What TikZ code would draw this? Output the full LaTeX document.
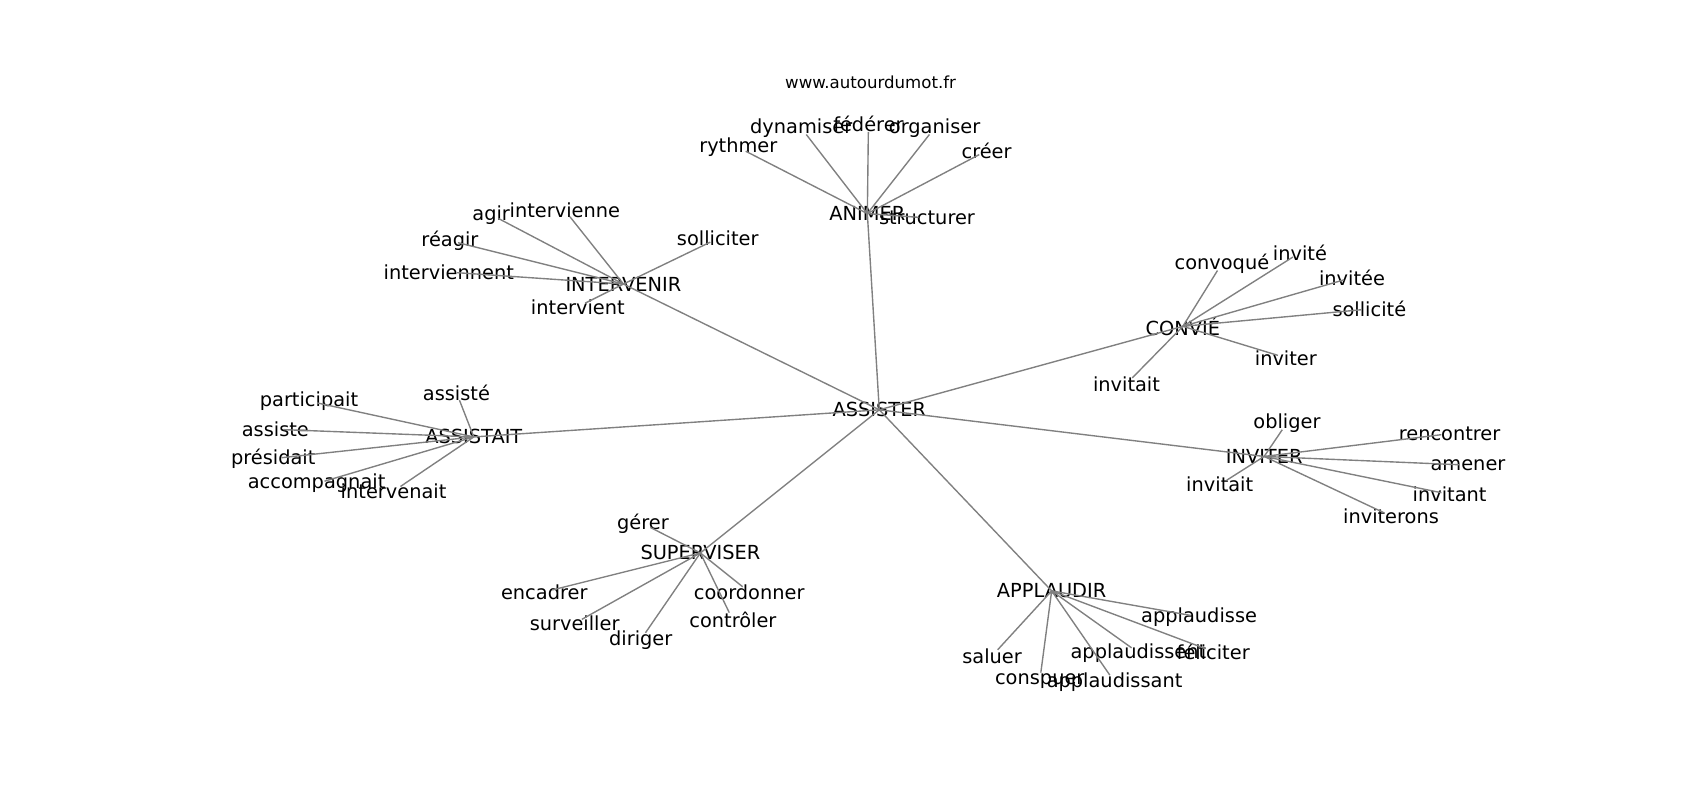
\documentclass[tikz,border=0pt]{standalone}
\usepackage{fontspec}
\setmainfont{DejaVu Sans}
\begin{document}
\begin{tikzpicture}[
        x=0.027538cm, y=-0.027538cm,
        font=\fontsize{14}{16}\selectfont,
        word/.style={inner sep=0pt, text=black},
        site/.style={inner sep=0pt, font=\fontsize{12}{14}\selectfont},
        link/.style={draw=gray, line width=1pt},
        leaf_link/.style={link, shorten >=6pt}
    ]
    \useasboundingbox (0,0) rectangle (1568,738);

    % --- 0. Source ---
    \node[site] (site) at (803,76) {www.autourdumot.fr};

    % --- 1. Centre ---
    \node[word] (assister) at (811,378) {ASSISTER};

    % --- 2. ANIMER ---
    \node[word] (animer) at (800,197) {ANIMER};
    \node[word] (rythmer) at (681,136) {rythmer};
    \node[word] (dynamiser) at (739,118) {dynamiser};
    \node[word] (federer) at (801,114) {fédérer};
    \node[word] (organiser) at (862,118) {organiser};
    \node[word] (creer) at (910,139) {créer};
    \node[word] (structurer) at (855,201) {structurer};

    % --- 3. INTERVENIR ---
    \node[word] (intervenir) at (575,262) {INTERVENIR};
    \node[word] (agir) at (453,198) {agir};
    \node[word] (intervienne) at (521,194) {intervienne};
    \node[word] (reagir) at (415,222) {réagir};
    \node[word] (solliciter) at (662,220) {solliciter};
    \node[word] (interviennent) at (414,251) {interviennent};
    \node[word] (intervient) at (533,283) {intervient};

    % --- 4. CONVIÉ ---
    \node[word] (convie) at (1091,301) {CONVIÉ};
    \node[word] (convoque) at (1127,243) {convoqué};
    \node[word] (invite) at (1199,233) {invité};
    \node[word] (invitee) at (1247,256) {invitée};
    \node[word] (sollicite) at (1263,285) {sollicité};
    \node[word] (inviter_c) at (1186,330) {inviter};
    \node[word] (invitait_c) at (1039,354) {invitait};

    % --- 5. ASSISTAIT ---
    \node[word] (assistait) at (437,403) {ASSISTAIT};
    \node[word] (assiste_e) at (421,362) {assisté};
    \node[word] (participait) at (285,370) {participait};
    \node[word] (assiste) at (254,396) {assiste};
    \node[word] (presidait) at (252,423) {présidait};
    \node[word] (accompagnait) at (292,446) {accompagnait};
    \node[word] (intervenait) at (363,453) {intervenait};

    % --- 6. INVITER ---
    \node[word] (inviter) at (1166,421) {INVITER};
    \node[word] (obliger) at (1187,390) {obliger};
    \node[word] (rencontrer) at (1337,400) {rencontrer};
    \node[word] (amener) at (1354,429) {amener};
    \node[word] (invitait_i) at (1125,447) {invitait};
    \node[word] (invitant) at (1337,456) {invitant};
    \node[word] (inviterons) at (1283,476) {inviterons};

    % --- 7. SUPERVISER ---
    \node[word] (superviser) at (646,510) {SUPERVISER};
    \node[word] (gerer) at (593,483) {gérer};
    \node[word] (encadrer) at (502,546) {encadrer};
    \node[word] (coordonner) at (691,546) {coordonner};
    \node[word] (surveiller) at (530,575) {surveiller};
    \node[word] (controler) at (676,572) {contrôler};
    \node[word] (diriger) at (591,590) {diriger};

    % --- 8. APPLAUDIR ---
    \node[word] (applaudir) at (970,545) {APPLAUDIR};
    \node[word] (applaudisse) at (1106,569) {applaudisse};
    \node[word] (saluer) at (915,605) {saluer};
    \node[word] (applaudissent) at (1050,602) {applaudissent};
    \node[word] (feliciter) at (1119,601) {féliciter};
    \node[word] (conspuer) at (959,628) {conspuer};
    \node[word] (applaudissant) at (1028,629) {applaudissant};

    % Links from the centre
    \path (assister.center) edge[link] (animer.center) edge[link] (intervenir.center)
        edge[link] (convie.center) edge[link] (assistait.center) edge[link] (inviter.center)
        edge[link] (superviser.center) edge[link] (applaudir.center);

    % Links to the leaves
    \path (animer.center) edge[leaf_link] (rythmer.center) edge[leaf_link] (dynamiser.center)
        edge[leaf_link] (federer.center) edge[leaf_link] (organiser.center)
        edge[leaf_link] (creer.center) edge[leaf_link] (structurer.center);
    \path (intervenir.center) edge[leaf_link] (agir.center) edge[leaf_link] (intervienne.center)
        edge[leaf_link] (reagir.center) edge[leaf_link] (solliciter.center)
        edge[leaf_link] (interviennent.center) edge[leaf_link] (intervient.center);
    \path (convie.center) edge[leaf_link] (convoque.center) edge[leaf_link] (invite.center)
        edge[leaf_link] (invitee.center) edge[leaf_link] (sollicite.center)
        edge[leaf_link] (inviter_c.center) edge[leaf_link] (invitait_c.center);
    \path (assistait.center) edge[leaf_link] (assiste_e.center) edge[leaf_link] (participait.center)
        edge[leaf_link] (assiste.center) edge[leaf_link] (presidait.center)
        edge[leaf_link] (accompagnait.center) edge[leaf_link] (intervenait.center);
    \path (inviter.center) edge[leaf_link] (obliger.center) edge[leaf_link] (rencontrer.center)
        edge[leaf_link] (amener.center) edge[leaf_link] (invitait_i.center)
        edge[leaf_link] (invitant.center) edge[leaf_link] (inviterons.center);
    \path (superviser.center) edge[leaf_link] (gerer.center) edge[leaf_link] (encadrer.center)
        edge[leaf_link] (coordonner.center) edge[leaf_link] (surveiller.center)
        edge[leaf_link] (controler.center) edge[leaf_link] (diriger.center);
    \path (applaudir.center) edge[leaf_link] (applaudisse.center) edge[leaf_link] (saluer.center)
        edge[leaf_link] (applaudissent.center) edge[leaf_link] (feliciter.center)
        edge[leaf_link] (conspuer.center) edge[leaf_link] (applaudissant.center);

\end{tikzpicture}
\end{document}
